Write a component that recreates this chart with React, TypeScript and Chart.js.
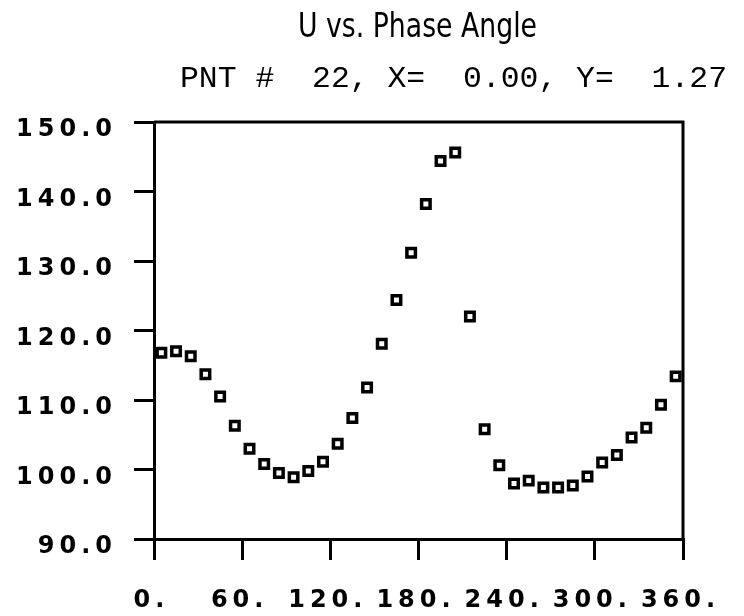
import React, { useEffect, useRef } from "react";
import { Chart, registerables } from "chart.js";

Chart.register(...registerables);

const TITLE = "U vs. Phase Angle";
const SUBTITLE = "PNT #  22, X=  0.00, Y=  1.27";

const phaseAngles = [
  5, 15, 25, 35, 45, 55, 65, 75, 85, 95, 105, 115, 125, 135, 145, 155, 165, 175,
  185, 195, 205, 215, 225, 235, 245, 255, 265, 275, 285, 295, 305, 315, 325, 335,
  345, 355,
];
const uValues = [
  116.8, 117.0, 116.3, 113.7, 110.5, 106.3, 103.0, 100.8, 99.5, 98.9, 99.8, 101.1,
  103.7, 107.4, 111.8, 118.1, 124.4, 131.2, 138.2, 144.4, 145.6, 122.0, 105.8, 100.6,
  98.0, 98.4, 97.4, 97.4, 97.7, 99.0, 101.0, 102.1, 104.6, 106.0, 109.3, 113.4,
];
const xTickValues = [0, 60, 120, 180, 240, 300, 360];
const yTickValues = [90, 100, 110, 120, 130, 140, 150];

const TICK_FONT = { family: "'DejaVu Sans', 'Noto Sans', sans-serif", size: 24, weight: "bold" as const };

function drawFitted(ctx: CanvasRenderingContext2D, text: string, font: string, left: number, right: number, baseline: number) {
  ctx.save();
  ctx.font = font;
  (ctx as any).letterSpacing = "0px";
  ctx.textAlign = "left";
  ctx.textBaseline = "alphabetic";
  ctx.fillStyle = "#000";
  const w = ctx.measureText(text).width;
  ctx.translate(left, baseline);
  ctx.scale((right - left) / w, 1);
  ctx.fillText(text, 0, 0);
  ctx.restore();
}

const spacingPlugin = {
  id: "spacing",
  beforeDraw(chart: any) {
    (chart.ctx as any).letterSpacing = "5px";
  },
};

const framePlugin = {
  id: "frame",
  beforeDatasetsDraw(chart: any) {
    const { ctx, chartArea } = chart;
    ctx.save();
    ctx.strokeStyle = "#000";
    ctx.lineWidth = 3;
    ctx.beginPath();
    ctx.moveTo(chartArea.left, chartArea.top);
    ctx.lineTo(chartArea.right, chartArea.top);
    ctx.lineTo(chartArea.right, chartArea.bottom);
    ctx.stroke();
    ctx.restore();
  },
};

const titlePlugin = {
  id: "titles",
  afterDraw(chart: any) {
    const ctx = chart.ctx;
    drawFitted(ctx, TITLE, "500 33px 'Liberation Sans Narrow', 'DejaVu Sans Condensed', sans-serif", 298, 537, 37);
    drawFitted(ctx, SUBTITLE, "29px 'Liberation Mono', 'DejaVu Sans Mono', monospace", 180, 727, 87);
  },
};

export default function App() {
  const ref = useRef<HTMLCanvasElement | null>(null);

  useEffect(() => {
    document.body.style.margin = "0";
    const canvas = ref.current;
    if (!canvas) return;
    const chart = new Chart(canvas, {
      type: "scatter",
      data: {
        datasets: [
          {
            data: phaseAngles.map((x, i) => ({ x, y: uValues[i] })),
            pointStyle: "rect",
            pointRadius: 6,
            pointBorderWidth: 3.5,
            pointBorderColor: "#000",
            pointBackgroundColor: "#fff",
            borderColor: "#000",
            backgroundColor: "#fff",
            showLine: false,
          } as any,
        ],
      },
      options: {
        animation: false,
        responsive: false,
        devicePixelRatio: 1,
        layout: { padding: { left: 0, right: 61, top: 122, bottom: 0 } },
        plugins: {
          legend: { display: false },
          tooltip: { enabled: false },
          title: { display: false },
        },
        scales: {
          x: {
            type: "linear",
            position: "bottom",
            min: 0,
            max: 360,
            afterBuildTicks: (axis: any) => {
              axis.ticks = xTickValues.map((v) => ({ value: v }));
            },
            afterFit: (s: any) => {
              s.height = 77;
            },
            grid: {
              display: true,
              drawOnChartArea: false,
              drawTicks: true,
              tickLength: 21,
              color: "#000",
              lineWidth: 3,
            },
            border: { display: true, color: "#000", width: 3 },
            ticks: {
              color: "#000",
              font: TICK_FONT,
              padding: 26,
              labelOffset: -2.5,
              maxRotation: 0,
              autoSkip: false,
              callback: (v: any) => `${v}.`,
            },
          },
          y: {
            type: "linear",
            min: 90,
            max: 150,
            afterBuildTicks: (axis: any) => {
              axis.ticks = yTickValues.map((v) => ({ value: v }));
            },
            afterFit: (s: any) => {
              s.width = 154;
            },
            grid: {
              display: true,
              drawOnChartArea: false,
              drawTicks: true,
              tickLength: 20,
              color: "#000",
              lineWidth: 3,
            },
            border: { display: true, color: "#000", width: 3 },
            ticks: {
              color: "#000",
              font: TICK_FONT,
              padding: 17,
              labelOffset: 8,
              autoSkip: false,
              callback: (v: any) => Number(v).toFixed(1),
            },
          },
        },
      } as any,
      plugins: [spacingPlugin, framePlugin, titlePlugin],
    });
    return () => chart.destroy();
  }, []);

  return (
    <div style={{ width: 744, height: 616, background: "#fff" }}>
      <canvas ref={ref} width={744} height={616} style={{ display: "block" }} />
    </div>
  );
}
